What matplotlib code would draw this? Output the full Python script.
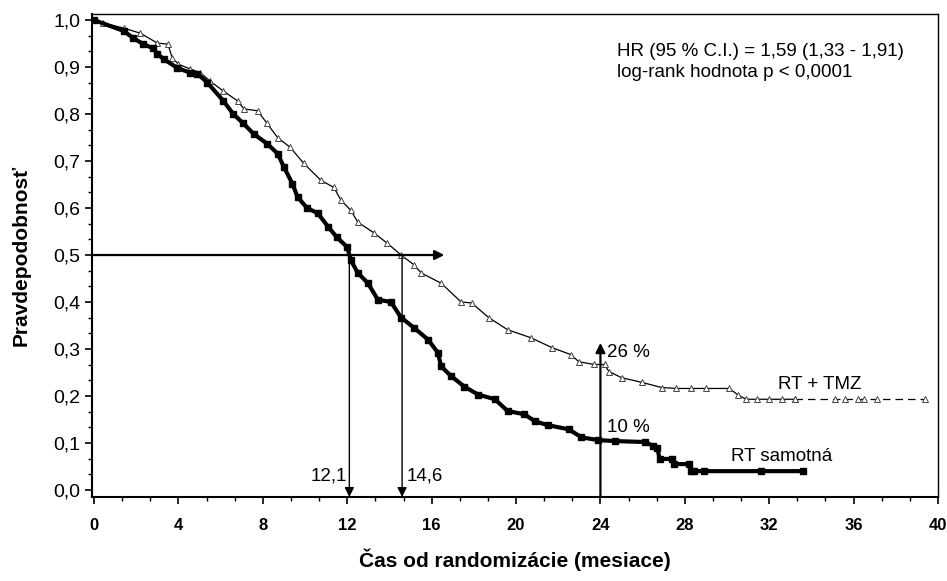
import numpy as np
import matplotlib
matplotlib.use("Agg")
from matplotlib import pyplot as plt
from matplotlib.ticker import MultipleLocator

plt.rcParams['font.family'] = ['Liberation Sans', 'DejaVu Sans']

# RT samotna
rt_t = [0, 1.4, 1.85, 2.33, 2.8, 3.0, 3.3, 3.95, 4.56, 4.9, 5.37, 6.13, 6.6, 7.08,
        7.56, 8.2, 8.7, 9.0, 9.4, 9.65, 10.1, 10.6, 11.1, 11.5, 12.0, 12.17, 12.5,
        12.98, 13.45, 14.07, 14.55, 15.17, 15.83, 16.3, 16.45, 16.93, 17.55, 18.2,
        19.0, 19.6, 20.4, 20.9, 21.5, 22.5, 23.1, 23.9, 24.7, 26.1, 26.5, 26.7,
        26.8, 27.4, 27.5, 28.2, 28.3, 28.45, 28.9, 31.6, 33.6]
rt_s = [1.0, 0.977, 0.962, 0.949, 0.94, 0.928, 0.917, 0.898, 0.888, 0.886, 0.867,
        0.828, 0.80, 0.78, 0.758, 0.737, 0.716, 0.687, 0.652, 0.623, 0.60, 0.589,
        0.56, 0.538, 0.517, 0.489, 0.462, 0.44, 0.405, 0.40, 0.367, 0.345, 0.32,
        0.292, 0.263, 0.242, 0.22, 0.203, 0.193, 0.168, 0.161, 0.146, 0.138, 0.129,
        0.112, 0.106, 0.104, 0.102, 0.094, 0.090, 0.066, 0.066, 0.055, 0.055, 0.040,
        0.040, 0.040, 0.040, 0.040]

# RT + TMZ
tmz_t = [0, 0.43, 1.4, 2.2, 3.0, 3.5, 3.7, 4.0, 4.56, 5.04, 5.5, 6.1, 6.8, 7.1,
         7.75, 8.2, 8.7, 9.3, 9.94, 10.75, 11.36, 11.7, 12.17, 12.5, 13.27, 13.9,
         14.55, 15.17, 15.5, 16.45, 17.4, 17.9, 18.7, 19.6, 20.7, 21.7, 22.6, 22.97,
         23.7, 24.2, 24.4, 25.0, 25.96, 26.9, 27.6, 28.3, 29.0, 30.1, 30.5, 30.9,
         31.4, 32.0, 32.6, 33.2]
tmz_s = [1.0, 0.994, 0.983, 0.972, 0.951, 0.949, 0.92, 0.906, 0.896, 0.888, 0.87,
         0.85, 0.828, 0.811, 0.807, 0.78, 0.75, 0.729, 0.695, 0.659, 0.644, 0.617,
         0.595, 0.57, 0.547, 0.525, 0.50, 0.479, 0.462, 0.44, 0.40, 0.398, 0.367,
         0.341, 0.324, 0.303, 0.288, 0.273, 0.267, 0.267, 0.252, 0.239, 0.229,
         0.218, 0.216, 0.216, 0.216, 0.216, 0.203, 0.193, 0.193, 0.193, 0.193, 0.193]
# dashed tail with censor marks
tmz_tail_t = [33.2, 35.1, 35.6, 36.2, 36.5, 37.1, 39.4]
tmz_tail_s = [0.193, 0.193, 0.193, 0.193, 0.193, 0.193, 0.193]

fig = plt.figure(figsize=(9.47, 5.81), dpi=100)
ax = fig.add_axes([0.0971, 0.1446, 0.8934, 0.8313])

ax.plot(tmz_t, tmz_s, color='black', lw=0.9, marker='^', ms=4,
        mfc='white', mec='#444444', mew=0.7, zorder=3)
ax.plot(tmz_tail_t, tmz_tail_s, color='black', lw=0.9, ls=(0, (6, 4)),
        marker='^', ms=4, mfc='white', mec='#444444', mew=0.7, zorder=3)
ax.plot(rt_t, rt_s, color='black', lw=3.0, marker='s', ms=5,
        mfc='black', mec='black', zorder=4)

# median and 24-month arrows
arr = dict(arrowstyle='-|>', color='black', shrinkA=0, shrinkB=0, mutation_scale=14)
ax.annotate('', xy=(16.6, 0.5), xytext=(-0.1, 0.5),
            arrowprops=dict(arr, lw=1.6))
ax.annotate('', xy=(12.1, -0.015), xytext=(12.1, 0.5),
            arrowprops=dict(arr, lw=1.0))
ax.annotate('', xy=(14.6, -0.015), xytext=(14.6, 0.5),
            arrowprops=dict(arr, lw=1.0))
ax.annotate('', xy=(24.0, 0.313), xytext=(24.0, -0.015),
            arrowprops=dict(arr, lw=1.6))

fs = 13.5
ax.text(12.0, 0.03, '12,1', ha='right', va='center', fontsize=fs)
ax.text(14.8, 0.03, '14,6', ha='left', va='center', fontsize=fs)
ax.text(24.3, 0.292, '26 %', ha='left', va='center', fontsize=fs)
ax.text(24.3, 0.133, '10 %', ha='left', va='center', fontsize=fs)
ax.text(34.4, 0.225, 'RT + TMZ', ha='center', va='center', fontsize=fs)
ax.text(32.6, 0.072, 'RT samotná', ha='center', va='center', fontsize=fs)
ax.text(24.8, 0.934, 'HR (95 % C.I.) = 1,59 (1,33 - 1,91)', ha='left',
        va='center', fontsize=fs)
ax.text(24.8, 0.888, 'log-rank hodnota p < 0,0001', ha='left', va='center',
        fontsize=fs)

ax.set_xlim(-0.1, 40.0)
ax.set_ylim(-0.015, 1.013)
ax.xaxis.set_major_locator(MultipleLocator(4))
ax.xaxis.set_minor_locator(MultipleLocator(4 / 3))
ax.yaxis.set_major_locator(MultipleLocator(0.1))
ax.yaxis.set_minor_locator(MultipleLocator(0.1 / 3))
ax.set_yticks(np.arange(0, 1.01, 0.1))
ax.set_yticklabels([('%.1f' % v).replace('.', ',') for v in np.arange(0, 1.01, 0.1)],
                   fontsize=14)
ax.set_xticks(np.arange(0, 41, 4))
ax.set_xticklabels([str(v) for v in range(0, 41, 4)], fontsize=12,
                   fontweight='bold')
ax.tick_params(which='major', direction='out', length=5, width=1.2)
ax.tick_params(which='minor', direction='out', length=3, width=1.0)
ax.tick_params(axis='x', which='major', pad=10)
for sp in ax.spines.values():
    sp.set_linewidth(1.0)
ax.spines['left'].set_linewidth(1.5)
ax.spines['bottom'].set_linewidth(1.5)

ax.set_ylabel('Pravdepodobnosť', fontsize=15, fontweight='bold', labelpad=16)
ax.set_xlabel('Čas od randomizácie (mesiace)', fontsize=15, fontweight='bold',
              labelpad=11)

fig.savefig('out.png', dpi=100)
